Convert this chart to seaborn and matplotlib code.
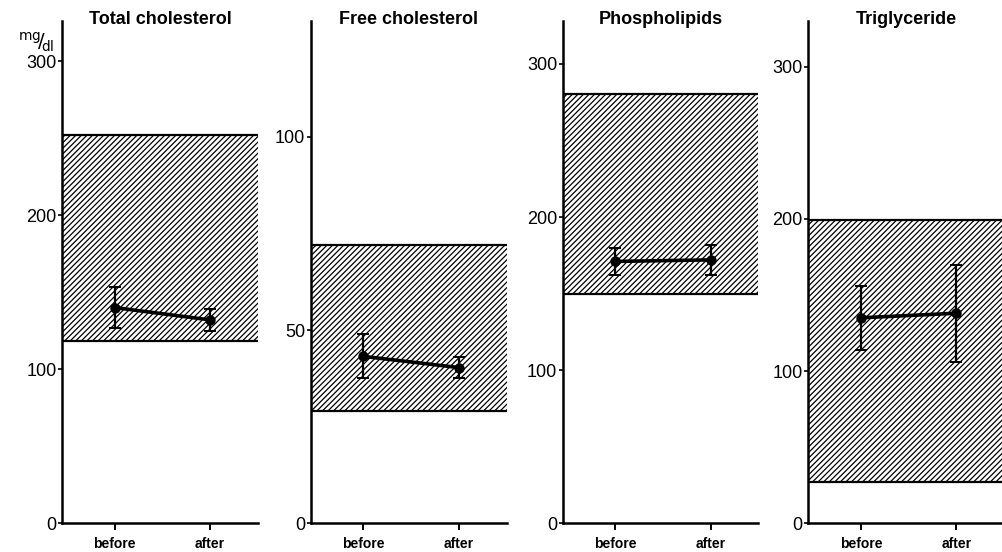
import numpy as np
import pandas as pd
import matplotlib
matplotlib.use("Agg")
import matplotlib.pyplot as plt
import seaborn as sns

sns.set_style("ticks")
plt.rcParams['font.family'] = ['Liberation Sans', 'DejaVu Sans']
plt.rcParams['hatch.linewidth'] = 0.9
plt.rcParams['text.color'] = 'black'
plt.rcParams['xtick.color'] = 'black'
plt.rcParams['ytick.color'] = 'black'
plt.rcParams['axes.edgecolor'] = 'black'

# ---- data ----
conditions = ["before", "after"]
titles = ["Total cholesterol", "Free cholesterol", "Phospholipids", "Triglyceride"]

mean_total_chol = [140, 132]
sd_total_chol = [13.5, 7]
mean_free_chol = [43.2, 40.3]
sd_free_chol = [5.7, 2.7]
mean_phospholipids = [171, 172]
sd_phospholipids = [9, 10]
mean_triglyceride = [135, 138]
sd_triglyceride = [21, 32]

normal_total_chol = [118, 252]
normal_free_chol = [29, 72]
normal_phospholipids = [150, 280]
normal_triglyceride = [27, 199]

yticks_total_chol = [0, 100, 200, 300]
yticks_free_chol = [0, 50, 100]
yticks_phospholipids = [0, 100, 200, 300]
yticks_triglyceride = [0, 100, 200, 300]

ylim_top = [326, 130, 328, 330]

means = [mean_total_chol, mean_free_chol, mean_phospholipids, mean_triglyceride]
sds = [sd_total_chol, sd_free_chol, sd_phospholipids, sd_triglyceride]
normals = [normal_total_chol, normal_free_chol, normal_phospholipids, normal_triglyceride]
yticks_all = [yticks_total_chol, yticks_free_chol, yticks_phospholipids, yticks_triglyceride]

fig = plt.figure(figsize=(10.03, 5.52), dpi=100)
lefts = [0.062, 0.310, 0.561, 0.806]
width = 0.195
bottom = 0.052
height = 0.910

for i in range(4):
    ax = fig.add_axes([lefts[i], bottom, width, height])
    df = pd.DataFrame({"condition": conditions, "value": means[i]})
    lo, hi = normals[i]
    # normal range band
    ax.axhspan(lo, hi, facecolor="none", edgecolor="black", hatch="//////",
               linewidth=0, zorder=0)
    ax.axhline(lo, color="black", lw=1.6, zorder=1)
    ax.axhline(hi, color="black", lw=1.6, zorder=1)
    sns.pointplot(data=df, x="condition", y="value", order=conditions,
                  color="black", errorbar=None, markers="o",
                  markersize=5.5, linewidth=2.6, ax=ax, zorder=4)
    pos = np.arange(len(conditions))
    ax.errorbar(pos, means[i], yerr=sds[i], fmt="none", ecolor="black",
                elinewidth=1.6, capsize=4, capthick=1.4, zorder=5)
    ax.set_xlim(-0.55, 1.5)
    ax.set_ylim(0, ylim_top[i])
    ax.set_yticks(yticks_all[i])
    ax.set_yticklabels([str(t) for t in yticks_all[i]], fontsize=13)
    ax.set_xticks(pos)
    ax.set_xticklabels(conditions, fontsize=10, fontweight="bold")
    ax.set_xlabel("")
    ax.set_ylabel("")
    sns.despine(ax=ax, top=True, right=True)
    ax.spines["left"].set_linewidth(1.8)
    ax.spines["bottom"].set_linewidth(1.8)
    ax.tick_params(axis="y", length=3, width=1.2, pad=1)
    ax.tick_params(axis="x", length=5, width=1.4, pad=5)
    ax.set_title(titles[i], fontsize=13, fontweight="bold", pad=-2,
                 y=1.0)
    ax.patch.set_alpha(0)

fig.text(0.018, 0.912, r"$^{\mathrm{mg}}\!/\!_{\mathrm{dl}}$", fontsize=14)

fig.savefig("out.png", dpi=100)
